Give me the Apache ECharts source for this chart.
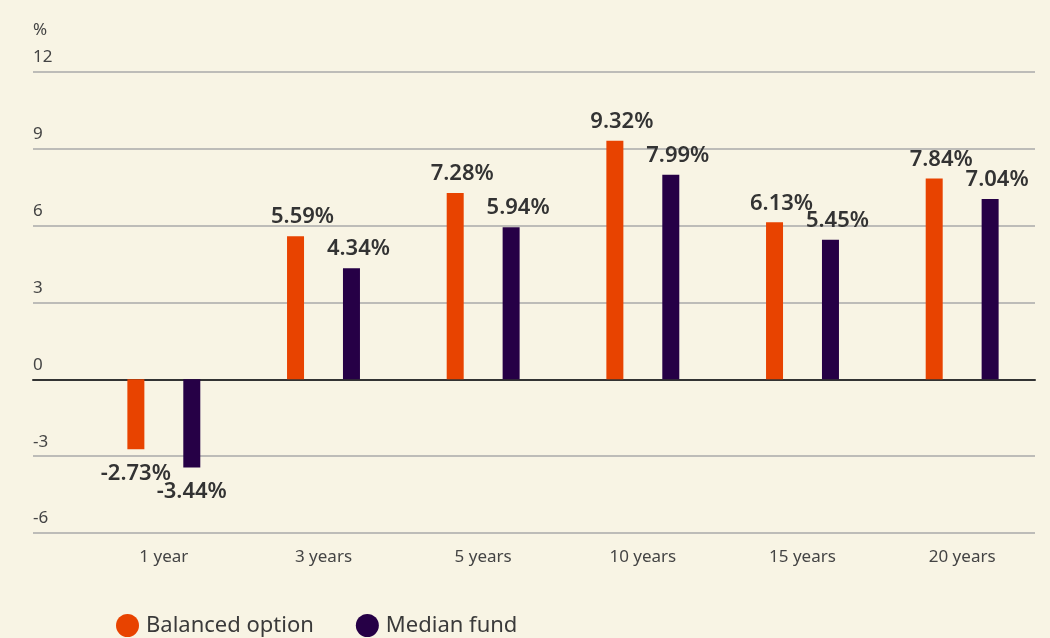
<!DOCTYPE html>
<html>
<head>
<meta charset="utf-8">
<script src="https://cdn.jsdelivr.net/npm/echarts@6/dist/echarts.min.js"></script>
<style>
    html, body { margin: 0; padding: 0; background: #f8f4e4; }
    #chart { width: 1050px; height: 638px; }
</style>
</head>
<body>
<div id="chart"></div>
<script>
    var categories = ['1 year', '3 years', '5 years', '10 years', '15 years', '20 years'];
    var balanced = [-2.73, 5.59, 7.28, 9.32, 6.13, 7.84];
    var median = [-3.44, 4.34, 5.94, 7.99, 5.45, 7.04];
    var seriesNames = ['Balanced option', 'Median fund'];
    var colors = ['#e84300', '#260046'];

    // positive labels sit a little to the right of the bar
    function toItems(arr) {
        return arr.map(function (v) {
            return {
                value: v,
                label: v >= 0
                    ? { position: 'top', distance: 8, offset: [7, 0] }
                    : { position: 'bottom', distance: 13 }
            };
        });
    }

    var labelStyle = {
        show: true,
        color: '#333',
        fontFamily: 'Noto Sans',
        fontWeight: 600,
        fontSize: 22,
        formatter: function (p) { return p.value.toFixed(2) + '%'; }
    };

    var myChart = echarts.init(document.getElementById('chart'));
    myChart.setOption({
        backgroundColor: '#f8f4e4',
        animation: false,
        textStyle: { fontFamily: 'Noto Sans' },
        legend: {
            left: 111,
            top: 609,
            icon: 'circle',
            itemWidth: 23,
            itemHeight: 23,
            itemGap: 42,
            data: seriesNames,
            textStyle: { color: '#3a3a3a', fontSize: 22, padding: [0, 0, 0, 2] }
        },
        grid: [
            // wide grid only for the horizontal rules and y labels
            { left: 33, right: 15, top: 72, bottom: 105 },
            // bars
            { left: 84, right: 8, top: 72, bottom: 105 }
        ],
        xAxis: [
            {
                gridIndex: 0,
                type: 'value',
                axisLine: { show: true, onZero: true, lineStyle: { color: '#333', width: 2 } },
                axisTick: { show: false },
                axisLabel: { show: false },
                splitLine: { show: false }
            },
            {
                gridIndex: 1,
                type: 'category',
                data: categories,
                axisLine: { show: false },
                axisTick: { show: false },
                axisLabel: { color: '#444', fontSize: 17, margin: 16 }
            }
        ],
        yAxis: [
            {
                gridIndex: 0,
                type: 'value',
                min: -6,
                max: 12,
                interval: 3,
                name: '%',
                nameLocation: 'end',
                nameGap: 33,
                nameTextStyle: { color: '#444', fontSize: 17, align: 'left' },
                axisLine: { show: false },
                axisTick: { show: false },
                axisLabel: {
                    inside: true,
                    margin: 0,
                    color: '#444',
                    fontSize: 17,
                    verticalAlign: 'bottom',
                    padding: [0, 0, 6, 0]
                },
                splitLine: { lineStyle: { color: '#aaa', width: 1.5 } }
            },
            {
                gridIndex: 1,
                type: 'value',
                min: -6,
                max: 12,
                interval: 3,
                show: false
            }
        ],
        series: [
            {
                name: seriesNames[0],
                type: 'bar',
                xAxisIndex: 1,
                yAxisIndex: 1,
                barWidth: 17,
                barGap: '229%',
                itemStyle: { color: colors[0] },
                label: labelStyle,
                data: toItems(balanced)
            },
            {
                name: seriesNames[1],
                type: 'bar',
                xAxisIndex: 1,
                yAxisIndex: 1,
                barWidth: 17,
                barGap: '229%',
                itemStyle: { color: colors[1] },
                label: labelStyle,
                data: toItems(median)
            }
        ]
    });
</script>
</body>
</html>
